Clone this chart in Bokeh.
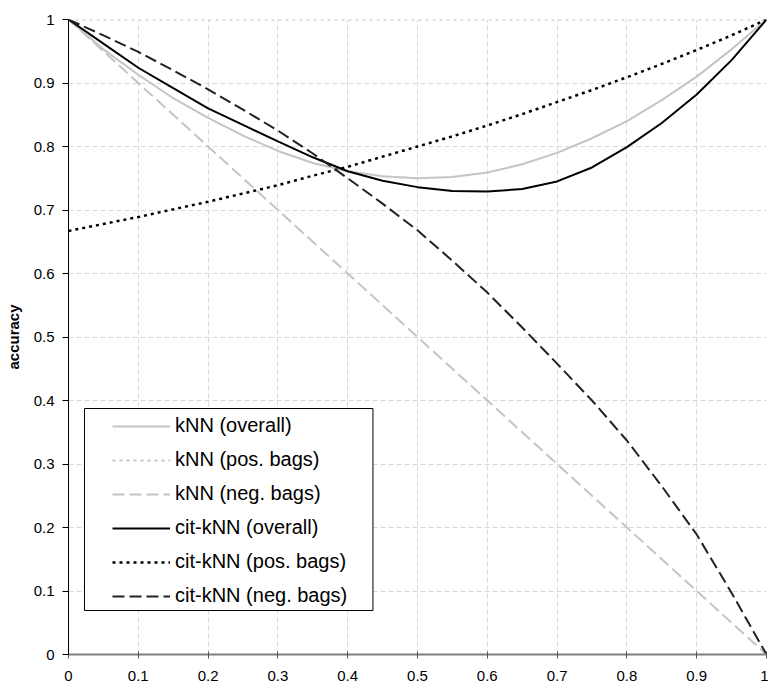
from bokeh.plotting import figure
from bokeh.models import Range1d, FixedTicker, Legend, LegendItem, BoxAnnotation
from bokeh.embed import file_html
from bokeh.resources import INLINE

# ---- data ----
x_vals = [0.0, 0.05, 0.1, 0.15, 0.2, 0.25, 0.3, 0.35, 0.4, 0.45, 0.5,
          0.55, 0.6, 0.65, 0.7, 0.75, 0.8, 0.85, 0.9, 0.95, 1.0]

knn_overall = [1.0, 0.953, 0.913, 0.876, 0.845, 0.817, 0.793, 0.774, 0.761, 0.753, 0.750,
               0.752, 0.759, 0.772, 0.790, 0.813, 0.840, 0.873, 0.910, 0.953, 1.0]
knn_pos = [1.0, 1.0, 1.0, 1.0, 1.0, 1.0, 1.0, 1.0, 1.0, 1.0, 1.0,
           1.0, 1.0, 1.0, 1.0, 1.0, 1.0, 1.0, 1.0, 1.0, 1.0]
knn_neg = [1.0, 0.95, 0.9, 0.85, 0.8, 0.75, 0.7, 0.65, 0.6, 0.55, 0.5,
           0.45, 0.4, 0.35, 0.3, 0.25, 0.2, 0.15, 0.1, 0.05, 0.0]
cit_overall = [1.0, 0.962, 0.924, 0.892, 0.860, 0.834, 0.808, 0.783, 0.761, 0.746, 0.736,
               0.730, 0.729, 0.733, 0.745, 0.767, 0.799, 0.837, 0.882, 0.936, 1.0]
cit_pos = [0.667, 0.678, 0.689, 0.701, 0.713, 0.726, 0.739, 0.754, 0.768, 0.784, 0.800,
           0.816, 0.833, 0.851, 0.870, 0.889, 0.909, 0.930, 0.952, 0.975, 1.0]
cit_neg = [1.0, 0.975, 0.949, 0.920, 0.890, 0.858, 0.825, 0.789, 0.750, 0.710, 0.668,
           0.620, 0.570, 0.515, 0.458, 0.400, 0.337, 0.265, 0.189, 0.097, 0.0]

series_names = ["kNN (overall)", "kNN (pos. bags)", "kNN (neg. bags)",
                "cit-kNN (overall)", "cit-kNN (pos. bags)", "cit-kNN (neg. bags)"]

x_ticks = [0, 0.1, 0.2, 0.3, 0.4, 0.5, 0.6, 0.7, 0.8, 0.9, 1]
x_labels = ["0", "0.1", "0.2", "0.3", "0.4", "0.5", "0.6", "0.7", "0.8", "0.9", "1"]
y_ticks = [0, 0.1, 0.2, 0.3, 0.4, 0.5, 0.6, 0.7, 0.8, 0.9, 1]
y_labels = ["0", "0.1", "0.2", "0.3", "0.4", "0.5", "0.6", "0.7", "0.8", "0.9", "1"]
y_title = "accuracy"

FONT = "Liberation Sans"
GRAY = "#c4c4c4"

p = figure(width=768, height=687, x_range=Range1d(0, 1), y_range=Range1d(0, 1),
           output_backend="svg", toolbar_location=None,
           min_border_left=68, min_border_right=2, min_border_top=19, min_border_bottom=33)
p.outline_line_color = None
p.background_fill_color = "white"
p.border_fill_color = "white"

# axes
p.xaxis.ticker = FixedTicker(ticks=x_ticks)
p.xaxis.major_label_overrides = dict(zip(x_ticks, x_labels))
p.yaxis.ticker = FixedTicker(ticks=y_ticks)
p.yaxis.major_label_overrides = dict(zip(y_ticks, y_labels))

for ax in (p.xaxis[0], p.yaxis[0]):
    ax.minor_tick_line_color = None
    ax.major_label_text_font = FONT
    ax.major_label_text_font_size = "15px"
    ax.major_label_text_color = "black"

p.yaxis.axis_line_color = "black"
p.yaxis.axis_line_width = 1
p.yaxis.major_tick_line_color = "black"
p.yaxis.major_tick_out = 6
p.yaxis.major_tick_in = 0
p.yaxis.major_label_standoff = 8
p.yaxis.axis_label = y_title
p.yaxis.axis_label_text_font = FONT
p.yaxis.axis_label_text_font_style = "bold"
p.yaxis.axis_label_text_font_size = "15px"
p.yaxis.axis_label_text_color = "black"
p.yaxis.axis_label_standoff = 9

p.xaxis.axis_line_color = "#808080"
p.xaxis.axis_line_width = 2
p.xaxis.major_tick_line_color = "#555555"
p.xaxis.major_tick_out = 4
p.xaxis.major_tick_in = 3
p.xaxis.major_label_standoff = 12

# grid
for g in (p.xgrid[0], p.ygrid[0]):
    g.grid_line_color = "#d9d9d9"
    g.grid_line_dash = "5 3"
    g.grid_line_width = 1

# lines
r1 = p.line(x_vals, knn_overall, line_color=GRAY, line_width=2)
r2 = p.line(x_vals, knn_pos, line_color=GRAY, line_width=2, line_dash="3 4")
r3 = p.line(x_vals, knn_neg, line_color=GRAY, line_width=2, line_dash="12 5")
r4 = p.line(x_vals, cit_overall, line_color="black", line_width=2)
r5 = p.line(x_vals, cit_pos, line_color="black", line_width=2.5, line_dash="3 4")
r6 = p.line(x_vals, cit_neg, line_color="#222222", line_width=2, line_dash="12 5")

# legend box (opaque frame)
box = BoxAnnotation(left=0.0229, right=0.4362, bottom=0.0693, top=0.3874,
                    fill_color="white", fill_alpha=1.0,
                    line_color="black", line_width=1, line_alpha=1.0)
p.add_layout(box)

legend = Legend(items=[LegendItem(label=n, renderers=[r])
                       for n, r in zip(series_names, [r1, r2, r3, r4, r5, r6])],
                location=(44, 47), padding=7, spacing=11, margin=0,
                label_height=20, glyph_height=20, glyph_width=58, label_standoff=5,
                label_text_font=FONT, label_text_font_size="20px", label_text_color="black",
                border_line_color=None, background_fill_alpha=0.0)
p.add_layout(legend)

open("out.html", "w").write(file_html(p, INLINE))
